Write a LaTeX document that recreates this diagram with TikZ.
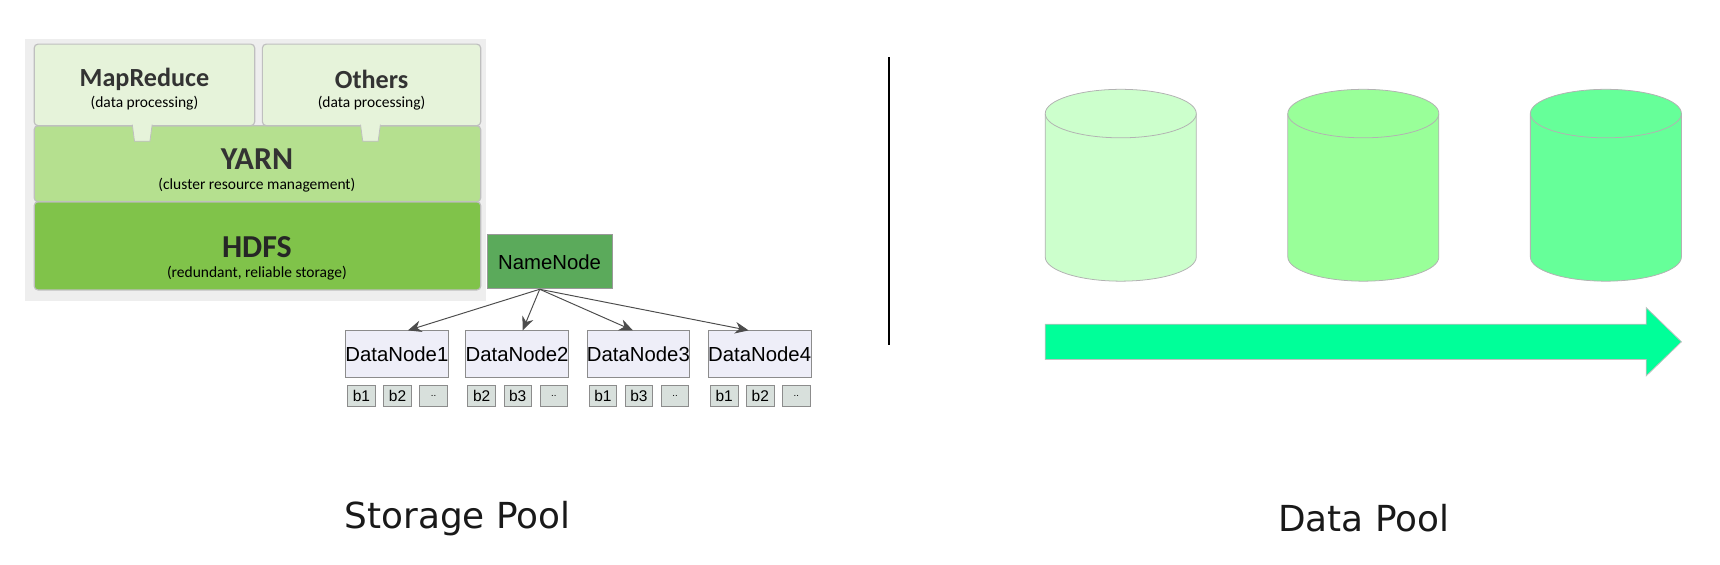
\documentclass[tikz,border=0pt]{standalone}
\usepackage{fontspec}
\setmainfont{Liberation Sans}
\newfontfamily\calfont{Carlito}
\newfontfamily\labfont{DejaVu Sans}
\usetikzlibrary{arrows.meta}
\definecolor{bggrey}{HTML}{EEEEEE}
\definecolor{appgreen}{HTML}{E6F3DA}
\definecolor{yarngreen}{HTML}{B5E08F}
\definecolor{hdfsgreen}{HTML}{80C34A}
\definecolor{namegreen}{HTML}{5BAA5B}
\definecolor{datablue}{HTML}{EEEEF8}
\definecolor{blockgrey}{HTML}{D8E0DC}
\definecolor{cylA}{HTML}{CCFFCC}
\definecolor{cylB}{HTML}{99FF99}
\definecolor{cylC}{HTML}{66FF99}
\definecolor{flowgreen}{HTML}{00FF99}
\tikzset{
    layer/.style={draw=black!25, rounded corners=2pt, line width=0.6pt},
    datanode/.style={draw=black!45, fill=datablue, minimum width=92*0.02cm, minimum height=42*0.02cm, inner sep=0pt, font=\fontsize{10.5}{12}\selectfont},
    block/.style={draw=black!45, fill=blockgrey, minimum width=25*0.02cm, minimum height=19*0.02cm, inner sep=0pt, font=\fontsize{8}{9}\selectfont},
    title/.style={font=\calfont\bfseries\fontsize{13.5}{14}\selectfont, text=black!80},
    subtitle/.style={font=\calfont\fontsize{8}{9}\selectfont},
}
\begin{document}
\begin{tikzpicture}[x=0.02cm, y=-0.02cm]
    \useasboundingbox (0,0) rectangle (1560,512);
    % Hadoop stack
    \fill[bggrey] (23,35) rectangle (441,273);
    \draw[layer, fill=hdfsgreen] (31,183) rectangle (436,263);
    \draw[layer, fill=yarngreen] (31,114) rectangle (436,183);
    \draw[layer, fill=appgreen] (31,40) rectangle (231,114);
    \draw[layer, fill=appgreen] (238,40) rectangle (436,114);
    \draw[draw=black!25, fill=appgreen] (120,113) -- (122,128) -- (136,128) -- (138,113);
    \draw[draw=black!25, fill=appgreen] (327,113) -- (329,128) -- (343,128) -- (345,113);
    \node[title] (mapreduce) at (131,72) {MapReduce};
    \node[subtitle] (mapreduce-sub) at (131,94) {(data processing)};
    \node[title] (others) at (337,72) {Others};
    \node[subtitle] (others-sub) at (337,94) {(data processing)};
    \node[title, font=\calfont\bfseries\fontsize{16.5}{17}\selectfont] (yarn) at (233,144) {YARN};
    \node[subtitle] (yarn-sub) at (233,168) {(cluster resource management)};
    \node[title, font=\calfont\bfseries\fontsize{16.5}{17}\selectfont, text=black!85] (hdfs) at (233,224) {HDFS};
    \node[subtitle] (hdfs-sub) at (233,248) {(redundant, reliable storage)};
    % NameNode and DataNodes
    \node[draw=black!40, fill=namegreen, minimum width=113*0.02cm, minimum height=49*0.02cm, inner sep=0pt, font=\fontsize{10.5}{12}\selectfont] (NameNode) at (498.5,237.5) {NameNode};
    \foreach \i/\x in {1/360,2/469,3/579,4/689} {
        \node[datanode] (DataNode-\i) at (\x,321) {DataNode\i};
    }
    \foreach \i/\a/\b in {1/b1/b2,2/b2/b3,3/b1/b3,4/b1/b2} {
        \node[block, anchor=west] (Block-\i-1) at ([xshift=2*0.02cm, yshift=-(7+9.5)*0.02cm]DataNode-\i.south west) {\a};
        \node[block, anchor=west] (Block-\i-2) at ([xshift=7*0.02cm]Block-\i-1.east) {\b};
        \node[block, anchor=west, font=\fontsize{5}{6}\selectfont] (Block-\i-3) at ([xshift=7*0.02cm]Block-\i-2.east) {..};
    }
    \foreach \i/\dx in {1/10,2/5,3/-5,4/-10} {
        \draw[-{Stealth[length=7pt,width=6pt]}, black!70, line width=0.5pt] ([xshift=-9*0.02cm]NameNode.south) -- ([xshift=\dx*0.02cm]DataNode-\i.north);
    }
    % separator
    \draw[line width=1.2pt] (806,52) -- (806,313);
    % data pool
    \foreach \x/\c in {948/cylA,1168/cylB,1388/cylC} {
        \draw[draw=black!30, fill=\c] (\x,103) -- (\x,233) arc(180:0:68.5 and 22) -- (\x+137,103);
        \draw[draw=black!30, fill=\c] (\x+68.5,103) ellipse (68.5 and 22);
    }
    \draw[draw=black!25, fill=flowgreen] (948,294) -- (1493,294) -- (1493,279) -- (1525,310) -- (1493,341) -- (1493,326) -- (948,326) -- cycle;
    % captions
    \node[font=\labfont\fontsize{18.5}{22}\selectfont, text=black!90] (storage-pool) at (415,470) {Storage Pool};
    \node[font=\labfont\fontsize{18.5}{22}\selectfont, text=black!90] (data-pool) at (1237,470) {Data Pool};
\end{tikzpicture}
\end{document}
